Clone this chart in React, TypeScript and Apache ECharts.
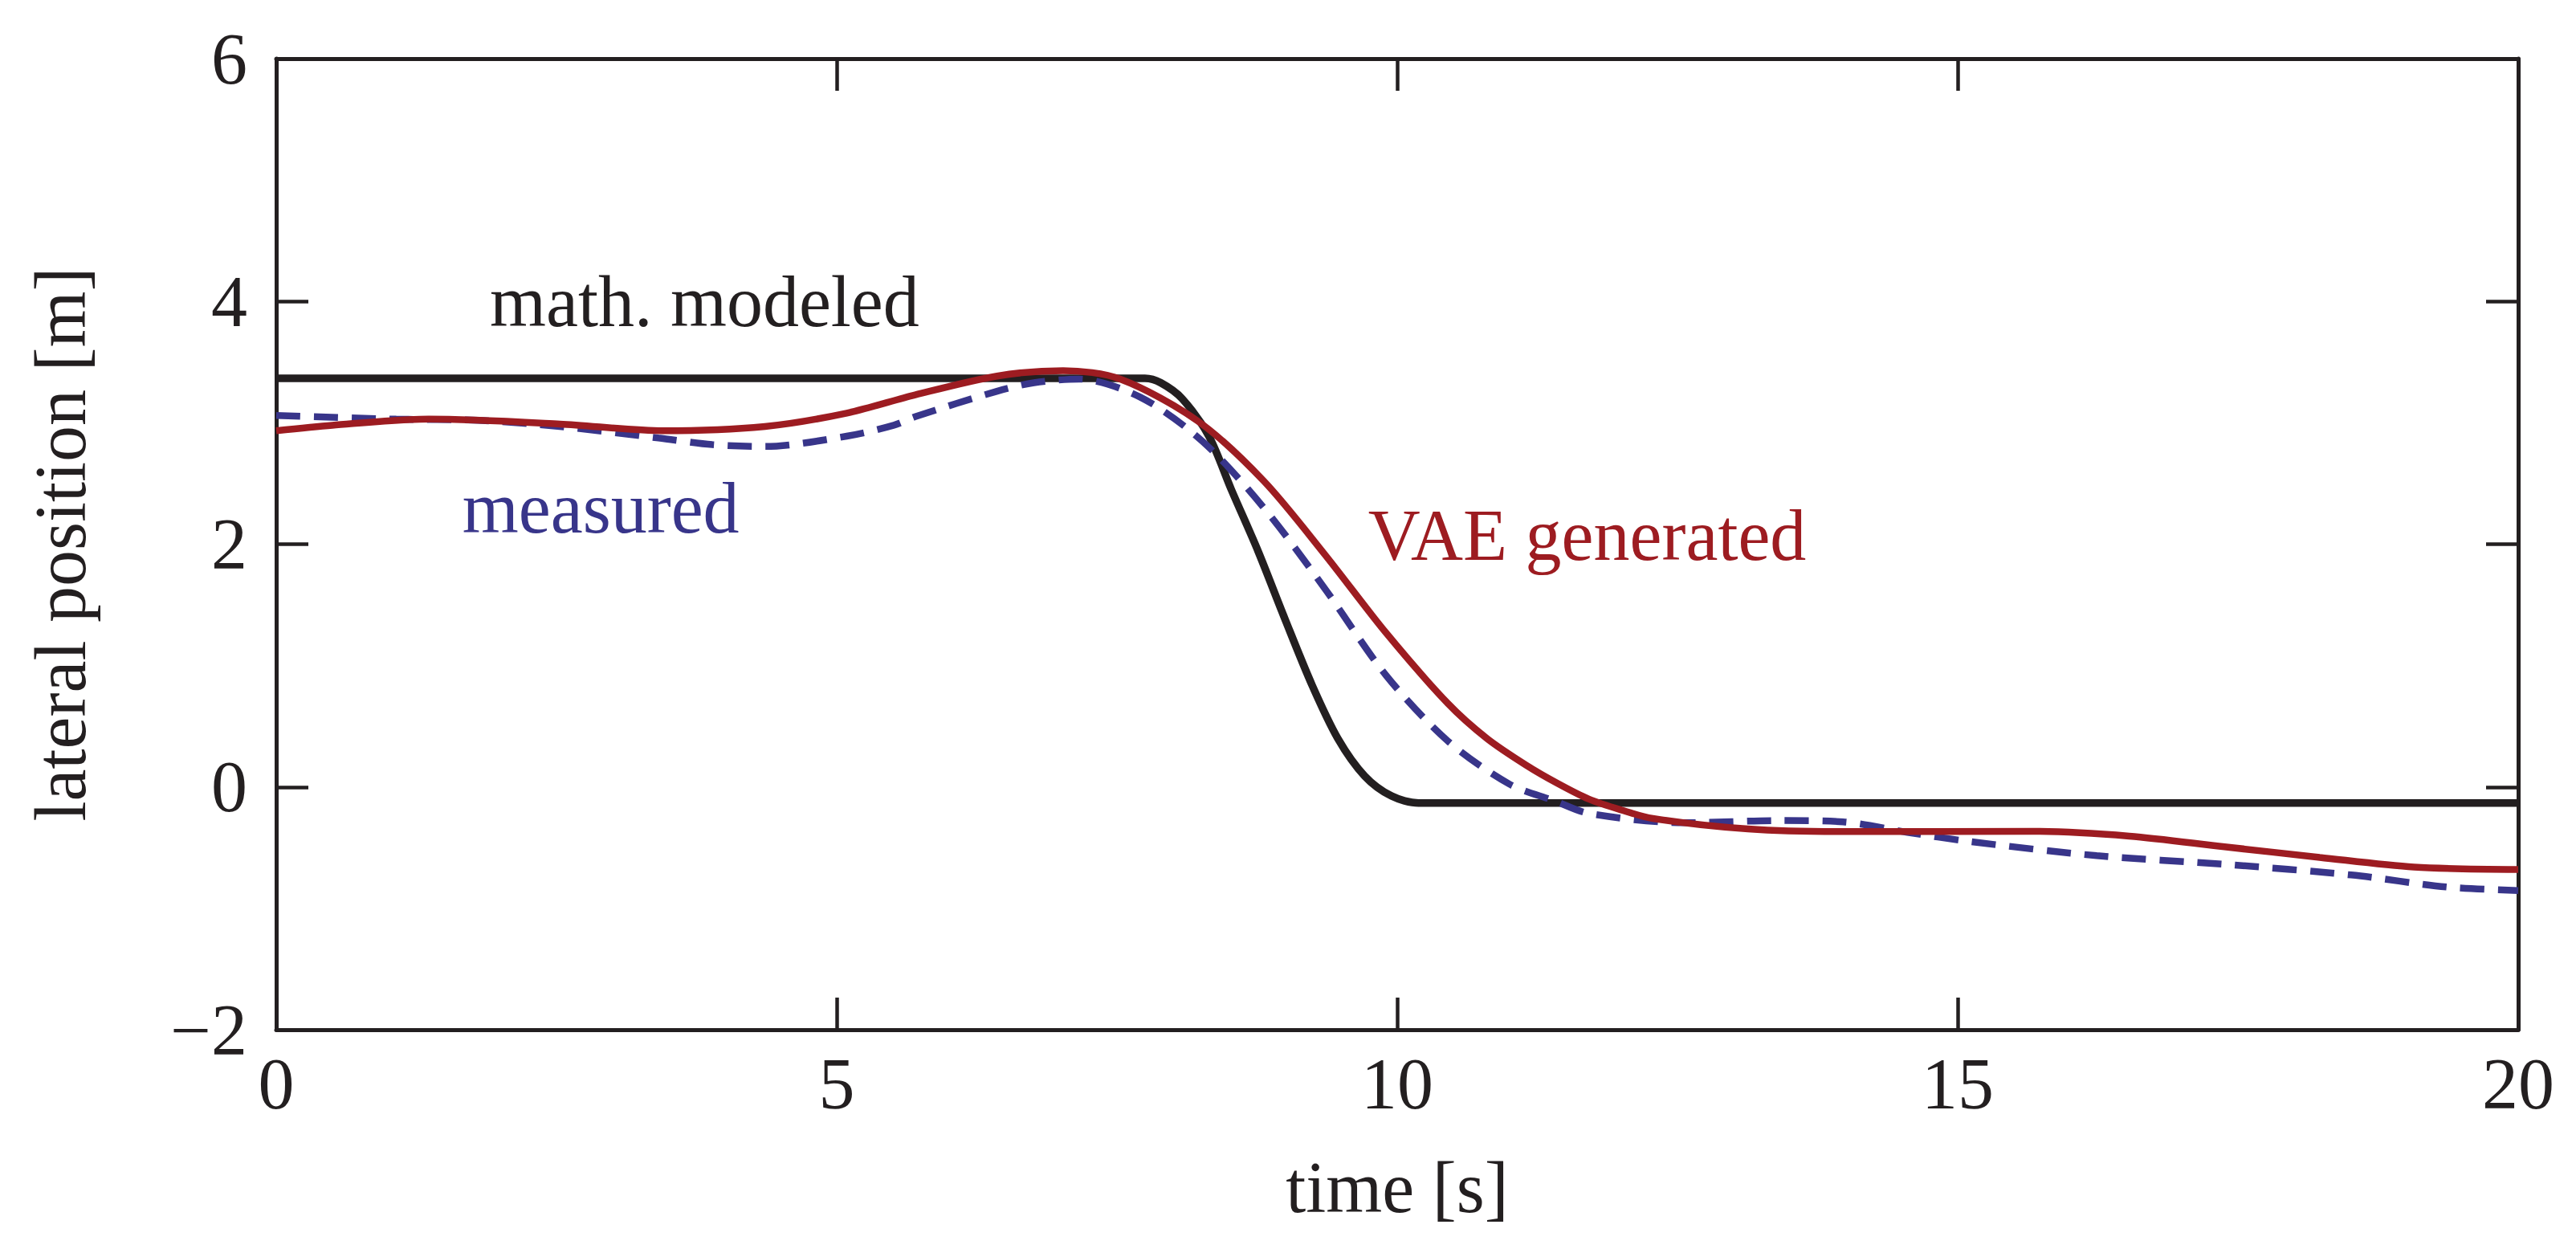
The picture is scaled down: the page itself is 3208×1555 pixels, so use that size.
import React, { useEffect, useRef } from "react";
import * as echarts from "echarts";

const xTicks = [0, 5, 10, 15, 20];
const yTicks = [-2, 0, 2, 4, 6];

const modeledT = [0, 7.75, 7.89, 8.08, 8.32, 8.52, 8.76, 9.0, 9.24, 9.47, 9.71, 9.95, 10.19, 20];
const modeledY = [3.366, 3.366, 3.33, 3.2, 2.89, 2.45, 1.94, 1.38, 0.84, 0.4, 0.09, -0.075, -0.132, -0.132];

const vaeT = [0, 0.5, 1.36, 2.53, 3.45, 4.36, 5.09, 5.7, 6.43, 7.02, 7.53, 8.22, 8.81, 9.35, 9.9, 10.45, 10.8, 11.15, 11.43, 11.71, 12.0, 12.28, 13.13, 13.98, 15.68, 16.53, 17.38, 18.23, 19.07, 20];
const vaeY = [2.935, 2.98, 3.03, 2.99, 2.935, 2.97, 3.08, 3.23, 3.385, 3.43, 3.36, 3.015, 2.52, 1.92, 1.27, 0.69, 0.4, 0.18, 0.03, -0.1, -0.19, -0.26, -0.346, -0.368, -0.366, -0.405, -0.493, -0.58, -0.66, -0.68];

const measT = [0, 1.07, 1.8, 2.53, 3.41, 3.89, 4.36, 5.09, 5.51, 5.7, 6.43, 6.76, 7.16, 7.71, 8.26, 8.81, 9.35, 9.9, 10.45, 11.0, 11.4, 11.71, 12.56, 13.41, 13.98, 14.54, 15.11, 16.24, 17.38, 18.51, 19.36, 20];
const measY = [3.06, 3.03, 3.02, 2.97, 2.875, 2.82, 2.805, 2.89, 2.98, 3.05, 3.26, 3.33, 3.36, 3.21, 2.85, 2.3, 1.64, 0.92, 0.38, 0.024, -0.113, -0.218, -0.295, -0.277, -0.288, -0.372, -0.45, -0.566, -0.637, -0.725, -0.824, -0.853];

const labelNames = ["math. modeled", "measured", "VAE generated"];
const labelT = [1.905, 1.66, 9.74];
const labelY = [3.8, 2.1, 1.875];

const INK = "#231f20";
const RED = "#9d1c21";
const BLUE = "#38358a";
const FONT = "Liberation Serif";

const zip = (a: number[], b: number[]) => a.map((v, i) => [v, b[i]]);

export default function App() {
  const ref = useRef<HTMLDivElement>(null);
  useEffect(() => {
    if (!ref.current) return;
    const chart = echarts.init(ref.current, null, { renderer: "svg" });
    const axisCommon = {
      type: "value" as const,
      axisLine: { show: true, onZero: false, lineStyle: { color: INK, width: 5 } },
      axisTick: { show: true, inside: true, length: 40, lineStyle: { color: INK, width: 4.5 } },
      splitLine: { show: false },
    };
    chart.setOption({
      animation: false,
      backgroundColor: "#ffffff",
      textStyle: { fontFamily: FONT },
      grid: { left: 344, right: 72, top: 73, bottom: 273, containLabel: false },
      xAxis: [
        {
          ...axisCommon,
          position: "bottom",
          min: xTicks[0],
          max: xTicks[xTicks.length - 1],
          interval: 5,
          name: "time [s]",
          nameLocation: "middle",
          nameGap: 151,
          nameTextStyle: { fontFamily: FONT, fontSize: 90, color: INK },
          axisLabel: { fontFamily: FONT, fontSize: 90, color: INK, margin: 22 },
        },
        {
          ...axisCommon,
          position: "top",
          min: xTicks[0],
          max: xTicks[xTicks.length - 1],
          interval: 5,
          axisLabel: { show: false },
        },
      ],
      yAxis: [
        {
          ...axisCommon,
          position: "left",
          min: yTicks[0],
          max: yTicks[yTicks.length - 1],
          interval: 2,
          name: "lateral position [m]",
          nameLocation: "middle",
          nameRotate: 90,
          nameGap: 224,
          nameTextStyle: { fontFamily: FONT, fontSize: 90, color: INK },
          axisLabel: {
            fontFamily: FONT,
            fontSize: 90,
            color: INK,
            margin: 36,
            formatter: (v: number) => (v < 0 ? "\u2212" + Math.abs(v) : String(v)),
          },
        },
        {
          ...axisCommon,
          position: "right",
          min: yTicks[0],
          max: yTicks[yTicks.length - 1],
          interval: 2,
          axisLabel: { show: false },
        },
      ],
      series: [
        {
          name: "math. modeled",
          type: "line",
          data: zip(modeledT, modeledY),
          showSymbol: false,
          symbol: "none",
          smooth: 0.3,
          lineStyle: { color: INK, width: 9.5 },
          z: 3,
        },
        {
          name: "measured",
          type: "line",
          data: zip(measT, measY),
          showSymbol: false,
          symbol: "none",
          smooth: 0.3,
          lineStyle: { color: BLUE, width: 8.5, type: [30, 17], cap: "butt" },
          z: 4,
        },
        {
          name: "VAE generated",
          type: "line",
          data: zip(vaeT, vaeY),
          showSymbol: false,
          symbol: "none",
          smooth: 0.3,
          lineStyle: { color: RED, width: 8.5 },
          z: 5,
        },
      ],
    });
    const colors = [INK, BLUE, RED];
    const graphic = labelNames.map((name, i) => {
      const p = chart.convertToPixel({ gridIndex: 0 }, [labelT[i], labelY[i]]) as number[];
      return {
        type: "text",
        x: p[0],
        y: p[1] - 30,
        z: 10,
        style: {
          text: name,
          fill: colors[i],
          font: `90px "${FONT}"`,
          textAlign: "left",
          textVerticalAlign: "middle",
          verticalAlign: "middle",
        },
      };
    });
    chart.setOption({ graphic });
    return () => chart.dispose();
  }, []);
  return (
    <div
      ref={ref}
      style={{ position: "absolute", left: 0, top: 0, width: 3208, height: 1555 }}
    />
  );
}
